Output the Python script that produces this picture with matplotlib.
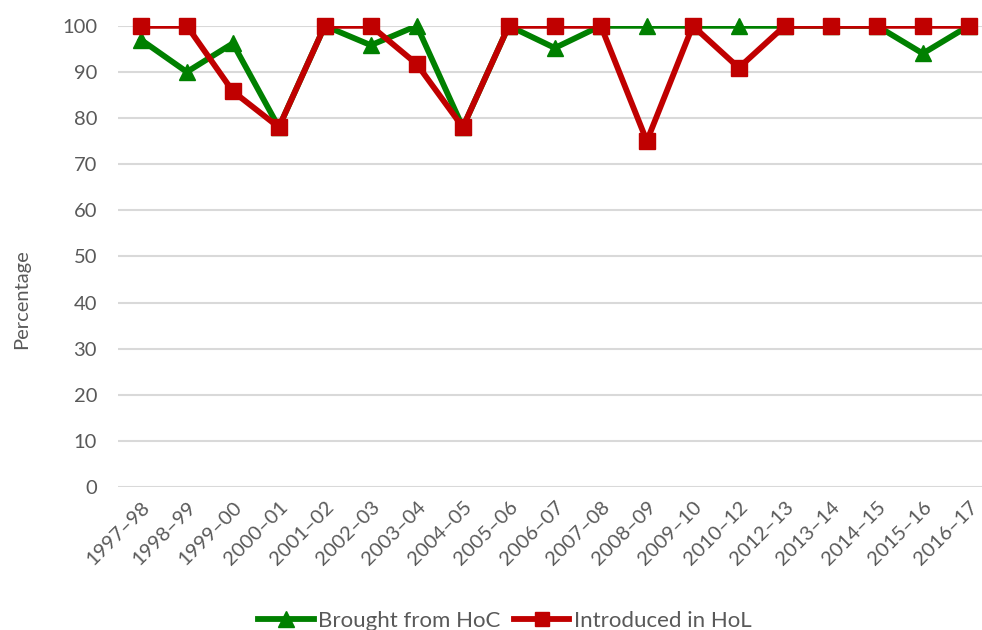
import matplotlib
matplotlib.use("Agg")
import matplotlib.pyplot as plt
from matplotlib.lines import Line2D

sessions = ["1997–98", "1998–99", "1999–00", "2000–01", "2001–02", "2002–03",
            "2003–04", "2004–05", "2005–06", "2006–07", "2007–08", "2008–09",
            "2009–10", "2010–12", "2012–13", "2013–14", "2014–15", "2015–16",
            "2016–17"]
brought_from_hoc = [97, 90, 96.2, 78, 100, 95.8, 100, 78, 100, 95.2, 100, 100,
                    100, 100, 100, 100, 100, 94, 100]
introduced_in_hol = [100, 100, 85.8, 78, 100, 100, 91.7, 78, 100, 100, 100, 75,
                     100, 90.9, 100, 100, 100, 100, 100]

GREEN = "#008000"
RED = "#C00000"
GREY = "#595959"

plt.rcParams["font.family"] = ["Lato", "DejaVu Sans"]

fig = plt.figure(figsize=(9.82, 6.3), dpi=100)
ax = fig.add_axes([0.120, 0.227, 0.890, 0.732])

x = list(range(len(sessions)))

# lines are clipped at the plot area, markers drawn on top unclipped
ax.plot(x, brought_from_hoc, color=GREEN, lw=4.2, solid_joinstyle="miter", zorder=3)
ax.plot(x, brought_from_hoc, ls="none", marker="^", ms=12, color=GREEN,
        clip_on=False, zorder=4)
ax.plot(x, introduced_in_hol, color=RED, lw=4.2, solid_joinstyle="miter", zorder=5)
ax.plot(x, introduced_in_hol, ls="none", marker="s", ms=11.5, color=RED,
        clip_on=False, zorder=6)

ax.set_xlim(-0.5, len(sessions) - 0.5)
ax.set_ylim(0, 100)
ax.set_yticks(range(0, 101, 10))
ax.set_xticks(x)
ax.set_xticklabels(sessions, rotation=45, ha="right", rotation_mode="anchor")

ax.grid(axis="y", color="#d9d9d9", lw=1.5)
ax.set_axisbelow(True)
for s in ax.spines.values():
    s.set_visible(False)
ax.tick_params(axis="y", length=0, labelsize=14.5, colors=GREY, pad=15)
ax.tick_params(axis="x", length=0, labelsize=14.5, colors=GREY, pad=8)

fig.text(0.022, 0.525, "Percentage", rotation=90, ha="center", va="center",
         fontsize=14.5, color=GREY)

handles = [
    Line2D([], [], color=GREEN, lw=4.2, marker="^", ms=11),
    Line2D([], [], color=RED, lw=4.2, marker="s", ms=10.5),
]
fig.legend(handles, ["Brought from HoC", "Introduced in HoL"], loc="center",
           bbox_to_anchor=(0.514, 0.015), ncol=2, frameon=False, fontsize=16,
           labelcolor=GREY, handlelength=2.5, handletextpad=0.2,
           columnspacing=0.6)

fig.savefig("out.png", dpi=100)
